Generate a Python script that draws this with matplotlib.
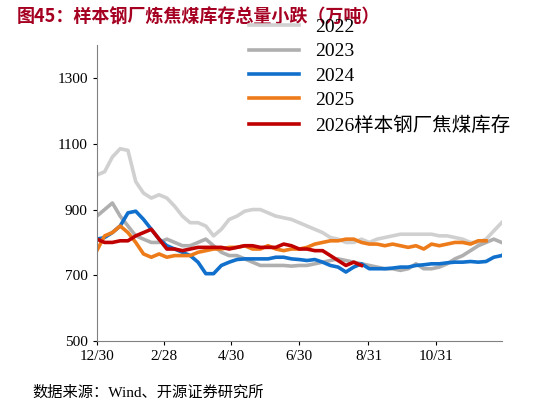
import matplotlib
matplotlib.use("Agg")
from matplotlib import pyplot as plt

plt.rcParams['font.family'] = ['Liberation Serif', 'Noto Sans CJK SC']

y2022 = [1005, 1015, 1060, 1085, 1080, 985, 950, 935, 945, 935, 910, 880, 860, 860, 850, 820, 840, 870,
         880, 895, 900, 900, 890, 880, 875, 870, 860, 850, 840, 830, 815, 810, 800, 800, 810, 800, 810,
         815, 820, 825, 825, 825, 825, 825, 820, 820, 815, 810, 800, 800, 810, 835, 860]
y2023 = [880, 900, 920, 880, 850, 820, 810, 800, 800, 810, 800, 790, 790, 800, 810, 790, 770, 760, 760,
         750, 740, 730, 730, 730, 730, 728, 730, 730, 735, 740, 745, 750, 745, 740, 735, 730, 725, 720,
         720, 715, 720, 735, 720, 720, 725, 735, 750, 760, 775, 790, 800, 810, 800]
y2024 = [810, 815, 830, 850, 890, 895, 870, 840, 810, 790, 780, 770, 760, 740, 705, 705, 730, 740, 748,
         750, 750, 750, 750, 755, 755, 750, 748, 745, 748, 740, 730, 725, 710, 725, 735, 720, 720, 720,
         722, 725, 725, 730, 732, 735, 735, 738, 740, 740, 742, 740, 742, 755, 760, 775]
y2025 = [775, 820, 830, 850, 830, 800, 765, 755, 765, 755, 760, 760, 760, 770, 775, 780, 780, 785, 785,
         790, 780, 780, 790, 780, 775, 780, 780, 785, 795, 800, 805, 805, 810, 810, 800, 795, 795, 790,
         795, 790, 785, 790, 780, 795, 790, 795, 800, 800, 795, 805, 805]
y2026 = [810, 800, 800, 805, 805, 820, 830, 840, 810, 780, 780, 775, 780, 785, 785, 785, 785, 780, 785,
         790, 790, 785, 785, 785, 795, 790, 780, 780, 775, 775, 760, 745, 730, 740, 730]

tick_pos = [0, 8.6, 17.3, 26, 34.9, 43.6]
tick_labels = ['12/30', '2/28', '4/30', '6/30', '8/31', '10/31']

fig = plt.figure(figsize=(5.47, 4.07), dpi=100)
ax = fig.add_axes([0.177, 0.162, 0.74, 0.727])
series = [
    (y2022, '#D0D0D0', '2022'),
    (y2023, '#AFAFAF', '2023'),
    (y2024, '#1170CC', '2024'),
    (y2025, '#EE7B1A', '2025'),
    (y2026, '#C00000', '2026样本钢厂焦煤库存'),
]
for ys, c, lab in series:
    ax.plot(range(len(ys)), ys, color=c, linewidth=2.6, label=lab)

ax.set_ylim(500, 1400)
ax.set_yticks([500, 700, 900, 1100, 1300])
ax.set_xlim(0, 52)
ax.set_xticks(tick_pos)
ax.set_xticklabels(tick_labels)
ax.tick_params(labelsize=11, length=3, direction='out')
for s in ['top', 'right']:
    ax.spines[s].set_visible(False)
ax.spines['left'].set_color('#808080')
ax.spines['bottom'].set_color('#808080')
fig.legend(loc='upper left', bbox_to_anchor=(0.455, 0.955), frameon=False, fontsize=14,
           handlelength=2.6, labelspacing=0.35, borderaxespad=0, borderpad=0)

fig.text(0.03, 0.958, '图45：样本钢厂炼焦煤库存总量小跌（万吨）', fontsize=13, fontweight='bold',
         color='#A50021', family=['Noto Sans CJK SC'], va='center')
fig.text(0.06, 0.035, '数据来源：Wind、开源证券研究所', fontsize=11, family=['Liberation Serif', 'Noto Sans CJK SC'],
         va='center')
fig.savefig('out.png')
